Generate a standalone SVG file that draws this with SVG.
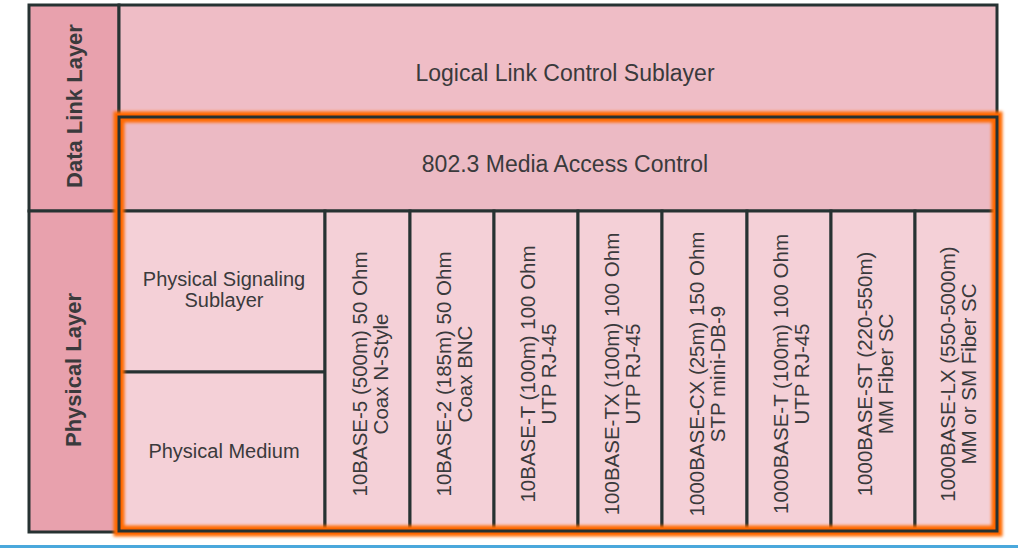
<svg xmlns="http://www.w3.org/2000/svg" width="1018" height="548" viewBox="0 0 1018 548">
<style>
.cell{stroke:#263232;stroke-width:3}
.layer{fill:#e8a1ad}
.llc{fill:#efbdc6}
.mac{fill:#ecbac4}
.low{fill:#f4d0d7}
text{font-family:"Liberation Sans",Arial,sans-serif;fill:#3a3a3c}
.big{font-size:23px}
.bold{font-size:22px;font-weight:bold}
.mid{font-size:20px}
.col{font-size:20.5px}
</style>
<defs>
<filter id="glow" x="-5%" y="-5%" width="110%" height="110%">
<feGaussianBlur stdDeviation="1.8"/>
</filter>
</defs>
<rect width="1018" height="548" fill="#ffffff"/>
<g id="data-link-layer">
<rect class="cell layer" x="29" y="5" width="90" height="206"/>
<text class="bold" text-anchor="middle" transform="translate(82,106) rotate(-90)">Data Link Layer</text>
</g>
<g id="physical-layer">
<rect class="cell layer" x="29" y="211" width="90" height="321"/>
<text class="bold" text-anchor="middle" transform="translate(81,370) rotate(-90)">Physical Layer</text>
</g>
<g id="llc">
<rect class="cell llc" x="119" y="5" width="878" height="112"/>
<text class="big" x="565" y="81" text-anchor="middle">Logical Link Control Sublayer</text>
</g>
<g id="mac">
<rect class="cell mac" x="119" y="117" width="878" height="94"/>
<text class="big" x="565" y="172" text-anchor="middle">802.3 Media Access Control</text>
</g>
<g id="pss">
<rect class="cell low" x="119" y="211" width="206" height="161"/>
<text class="mid" x="224" y="286" text-anchor="middle">Physical Signaling</text>
<text class="mid" x="224" y="307" text-anchor="middle">Sublayer</text>
</g>
<g id="pm">
<rect class="cell low" x="119" y="372" width="206" height="159"/>
<text class="mid" x="224" y="458" text-anchor="middle">Physical Medium</text>
</g>
<g id="c1">
<rect class="cell low" x="325" y="211" width="85" height="320"/>
<g transform="translate(367.5,374) rotate(-90)" text-anchor="middle"><text class="col" x="0" y="-1">10BASE-5 (500m) 50 Ohm</text><text class="col" x="0" y="20">Coax N-Style</text></g>
</g>
<g id="c2">
<rect class="cell low" x="410" y="211" width="84" height="320"/>
<g transform="translate(452,374) rotate(-90)" text-anchor="middle"><text class="col" x="0" y="-1">10BASE-2 (185m) 50 Ohm</text><text class="col" x="0" y="20">Coax BNC</text></g>
</g>
<g id="c3">
<rect class="cell low" x="494" y="211" width="84" height="320"/>
<g transform="translate(536,374) rotate(-90)" text-anchor="middle"><text class="col" x="0" y="-1">10BASE-T (100m) 100 Ohm</text><text class="col" x="0" y="20">UTP RJ-45</text></g>
</g>
<g id="c4">
<rect class="cell low" x="578" y="211" width="84" height="320"/>
<g transform="translate(620,374) rotate(-90)" text-anchor="middle"><text class="col" x="0" y="-1">100BASE-TX (100m) 100 Ohm</text><text class="col" x="0" y="20">UTP RJ-45</text></g>
</g>
<g id="c5">
<rect class="cell low" x="662" y="211" width="85" height="320"/>
<g transform="translate(704.5,374) rotate(-90)" text-anchor="middle"><text class="col" x="0" y="-1">1000BASE-CX (25m) 150 Ohm</text><text class="col" x="0" y="20">STP mini-DB-9</text></g>
</g>
<g id="c6">
<rect class="cell low" x="747" y="211" width="84" height="320"/>
<g transform="translate(789,374) rotate(-90)" text-anchor="middle"><text class="col" x="0" y="-1">1000BASE-T (100m) 100 Ohm</text><text class="col" x="0" y="20">UTP RJ-45</text></g>
</g>
<g id="c7">
<rect class="cell low" x="831" y="211" width="84" height="320"/>
<g transform="translate(873,374) rotate(-90)" text-anchor="middle"><text class="col" x="0" y="-1">1000BASE-ST (220-550m)</text><text class="col" x="0" y="20">MM Fiber SC</text></g>
</g>
<g id="c8">
<rect class="cell low" x="915" y="211" width="82" height="320"/>
<g transform="translate(956,374) rotate(-90)" text-anchor="middle"><text class="col" x="0" y="-1">1000BASE-LX (550-5000m)</text><text class="col" x="0" y="20">MM or SM Fiber SC</text></g>
</g>
<g id="highlight">
<rect x="119" y="117" width="878" height="414" fill="none" stroke="#ff6a00" stroke-width="11" filter="url(#glow)"/>
<rect x="119" y="117" width="878" height="414" fill="none" stroke="#ff6600" stroke-width="6"/>
<rect x="119" y="117" width="878" height="414" fill="none" stroke="#263232" stroke-width="3"/>
</g>
<rect x="0" y="545" width="1018" height="3" fill="#4aa8dc"/>
</svg>
